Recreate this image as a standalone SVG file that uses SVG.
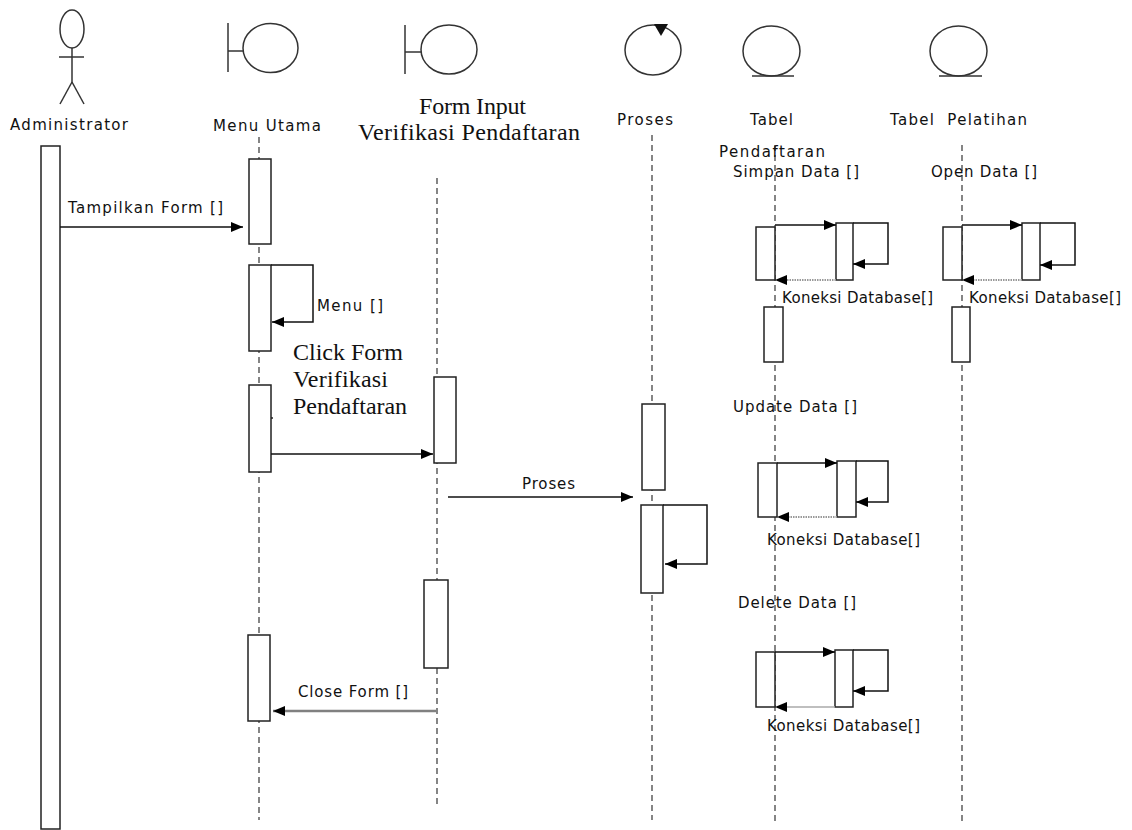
<svg xmlns="http://www.w3.org/2000/svg" width="1132" height="830" viewBox="0 0 1132 830">
<defs>
<marker id="ah" viewBox="0 0 12 10" refX="12" refY="5" markerWidth="12" markerHeight="10" markerUnits="userSpaceOnUse" orient="auto">
<path d="M0,0 L12,5 L0,10 z" fill="#000"/>
</marker>
</defs>
<style>
.ln{stroke:#222;stroke-width:1.5;fill:none}
.ico{stroke:#333;stroke-width:1.5;fill:none}
.life{stroke:#444;stroke-width:1.3;stroke-dasharray:6 4;fill:none}
.bar{stroke:#222;stroke-width:1.5;fill:#fff}
.msg{stroke:#111;stroke-width:1.5;fill:none}
.dot{stroke:#999;stroke-width:2;stroke-dasharray:1.5 1;fill:none}
.t{font-family:"DejaVu Sans","Liberation Sans",sans-serif;font-size:15px;fill:#111}
.s{font-family:"Liberation Serif","Times New Roman",serif;font-size:24px;fill:#111}
</style>
<rect width="1132" height="830" fill="#fff"/>

<g id="lifelines">
<line class="life" x1="259" y1="137" x2="259" y2="820"/>
<line class="life" x1="437" y1="178" x2="437" y2="807"/>
<line class="life" x1="652" y1="135" x2="652" y2="820"/>
<line class="life" x1="775" y1="145" x2="775" y2="821"/>
<line class="life" x1="962" y1="145" x2="962" y2="821"/>
</g>

<g id="administrator">
<ellipse class="ico" cx="72" cy="29" rx="12" ry="19"/>
<line class="ico" x1="59" y1="57" x2="84" y2="57"/>
<line class="ico" x1="72" y1="48" x2="72" y2="82"/>
<line class="ico" x1="72" y1="82" x2="60" y2="104"/>
<line class="ico" x1="72" y1="82" x2="84" y2="104"/>
<text class="t" x="10" y="130" textLength="118">Administrator</text>
<rect class="bar" x="41" y="146" width="19" height="683"/>
</g>

<g id="menu-utama">
<line class="ico" x1="228" y1="23" x2="228" y2="72"/>
<line class="ico" x1="228" y1="51" x2="243" y2="51"/>
<ellipse class="ico" cx="270.5" cy="48" rx="27.5" ry="24.5"/>
<text class="t" x="213" y="131" textLength="108">Menu Utama</text>
<rect class="bar" x="249" y="159" width="22" height="85"/>
<rect class="bar" x="249" y="265" width="22" height="86"/>
<rect class="bar" x="249" y="385" width="22" height="87"/>
<rect class="bar" x="248" y="635" width="22" height="86"/>
<line class="ln" x1="271" y1="418" x2="273" y2="418"/>
</g>

<g id="form-input">
<line class="ico" x1="405" y1="25" x2="405" y2="74"/>
<line class="ico" x1="405" y1="52" x2="421" y2="52"/>
<ellipse class="ico" cx="449" cy="49.5" rx="28" ry="24.5"/>
<text class="s" x="419" y="114" textLength="107">Form Input</text>
<text class="s" x="358" y="140" textLength="222">Verifikasi Pendaftaran</text>
<rect class="bar" x="434" y="377" width="22" height="86"/>
<rect class="bar" x="424" y="580" width="24" height="88"/>
</g>

<g id="proses">
<ellipse class="ico" cx="653" cy="50" rx="28" ry="25"/>
<polygon points="654,24 668,24 661,36" fill="#111"/>
<text class="t" x="617" y="125" textLength="56">Proses</text>
<rect class="bar" x="642" y="404" width="23" height="86"/>
<rect class="bar" x="641" y="505" width="22" height="88"/>
</g>

<g id="tabel-pendaftaran">
<ellipse class="ico" cx="771.5" cy="51" rx="28.5" ry="25"/>
<line class="ico" x1="752" y1="76" x2="794" y2="76"/>
<text class="t" x="750" y="125" textLength="43">Tabel</text>
<text class="t" x="719" y="157" textLength="106">Pendaftaran</text>
<rect class="bar" x="756" y="227" width="19" height="53"/>
<rect class="bar" x="836" y="223" width="17" height="57"/>
<rect class="bar" x="764" y="307" width="19" height="55"/>
<rect class="bar" x="758" y="463" width="19" height="54"/>
<rect class="bar" x="837" y="461" width="19" height="56"/>
<rect class="bar" x="756" y="652" width="19" height="55"/>
<rect class="bar" x="835" y="650" width="18" height="57"/>
</g>

<g id="tabel-pelatihan">
<ellipse class="ico" cx="958.5" cy="51" rx="28.5" ry="25"/>
<line class="ico" x1="939" y1="76" x2="982" y2="76"/>
<text class="t" x="890" y="125" textLength="137" xml:space="preserve">Tabel  Pelatihan</text>
<rect class="bar" x="943" y="227" width="19" height="53"/>
<rect class="bar" x="1022" y="223" width="18" height="57"/>
<rect class="bar" x="952" y="307" width="18" height="55"/>
</g>

<g id="connectors">
<line class="msg" x1="60" y1="227" x2="243" y2="227" marker-end="url(#ah)"/>
<text class="t" x="68" y="213" textLength="155">Tampilkan Form []</text>

<polyline class="msg" points="271,265 313,265 313,322 272,322" marker-end="url(#ah)"/>
<text class="t" x="317" y="311" textLength="66">Menu []</text>

<text class="s" x="293" y="360" textLength="110">Click Form</text>
<text class="s" x="293" y="387" textLength="95">Verifikasi</text>
<text class="s" x="293" y="414" textLength="114">Pendaftaran</text>
<line class="msg" x1="271" y1="454" x2="433" y2="454" marker-end="url(#ah)"/>

<line class="msg" x1="448" y1="497" x2="633" y2="497" marker-end="url(#ah)"/>
<text class="t" x="522" y="489" textLength="53">Proses</text>

<polyline class="msg" points="663,505 707,505 707,564 665,564" marker-end="url(#ah)"/>

<line class="msg" x1="436" y1="711" x2="273" y2="711" style="stroke:#808080;stroke-width:2.5" marker-end="url(#ah)"/>
<text class="t" x="298" y="697" textLength="110">Close Form []</text>

<text class="t" x="733" y="177" textLength="126">Simpan Data []</text>
<line class="msg" x1="775" y1="225" x2="836" y2="225" marker-end="url(#ah)"/>
<polyline class="msg" points="853,223 888,223 888,264 853,264" marker-end="url(#ah)"/>
<line class="dot" x1="836" y1="280" x2="787" y2="280"/>
<path d="M775,280 L787,275 L787,285 z" fill="#000"/>
<text class="t" x="782" y="303" textLength="151">Koneksi Database[]</text>

<text class="t" x="931" y="177" textLength="106">Open Data []</text>
<line class="msg" x1="962" y1="225" x2="1022" y2="225" marker-end="url(#ah)"/>
<polyline class="msg" points="1040,223 1075,223 1075,265 1040,265" marker-end="url(#ah)"/>
<line class="dot" x1="1022" y1="280" x2="974" y2="280"/>
<path d="M962,280 L974,275 L974,285 z" fill="#000"/>
<text class="t" x="969" y="303" textLength="152">Koneksi Database[]</text>

<text class="t" x="733" y="412" textLength="124">Update Data []</text>
<line class="msg" x1="777" y1="463" x2="837" y2="463" marker-end="url(#ah)"/>
<polyline class="msg" points="856,461 888,461 888,502 856,502" marker-end="url(#ah)"/>
<line class="dot" x1="837" y1="517" x2="789" y2="517"/>
<path d="M777,517 L789,512 L789,522 z" fill="#000"/>
<text class="t" x="767" y="545" textLength="153">Koneksi Database[]</text>

<text class="t" x="738" y="608" textLength="118">Delete Data []</text>
<line class="msg" x1="775" y1="652" x2="835" y2="652" marker-end="url(#ah)"/>
<polyline class="msg" points="853,650 888,650 888,691 853,691" marker-end="url(#ah)"/>
<line x1="835" y1="707" x2="787" y2="707" style="stroke:#aaa;stroke-width:1.5"/>
<path d="M775,707 L787,702 L787,712 z" fill="#000"/>
<text class="t" x="767" y="731" textLength="153">Koneksi Database[]</text>
</g>
</svg>
